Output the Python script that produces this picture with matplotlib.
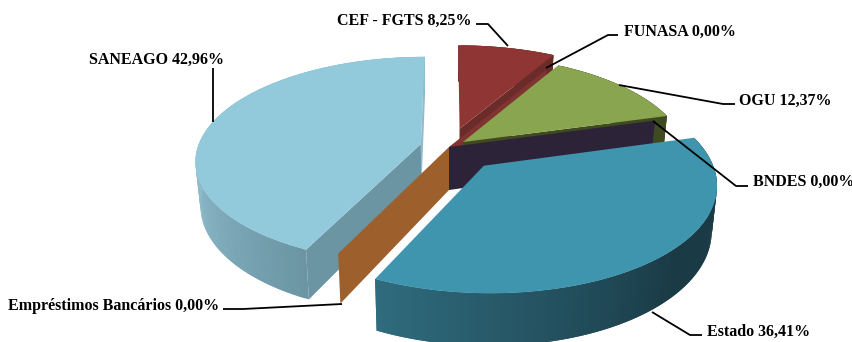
import numpy as np
import matplotlib
matplotlib.use('Agg')
import matplotlib.pyplot as plt
from matplotlib.colors import to_rgb

labels = ['CEF - FGTS', 'FUNASA', 'OGU', 'BNDES', 'Estado', 'Empréstimos Bancários', 'SANEAGO']
values = [8.25, 0.00, 12.37, 0.00, 36.41, 0.00, 42.96]
explode = [0.19, 0.0, 0.08, 0.0, 0.235, 0.0, 0.13]
top_colors = ['#8f3534', '#7f3432', '#8aa54f', '#2d2338', '#3f95ae', '#9d5f2b', '#92cadc']
side_colors = ['#6b2b28', '#7f3432', '#3f4a20', '#2d2338', '#1a3a46', '#9d5f2b', '#6b95a3']
rim_light = ['#6b2b28', '#7f3432', '#3f4a20', '#2d2338', '#2f6c7e', '#9d5f2b', '#8fbccd']

# pie centre, radii and perspective, all in pixels of the canvas
cx, cy = 449.0, 147.0
rx, ry = 223.0, 101.5
persp = 0.154
depth = 43.0
shrink = 0.02


def project(u, v, d=0.0):
    w = 1.0/(1.0 - persp*v)
    x = cx + rx*u*w*(1.0 - shrink*d)
    y = cy + (ry*v + depth*d)*w
    return x, y


def mix(a, b, t):
    a, b = np.array(to_rgb(a)), np.array(to_rgb(b))
    return tuple(a + (b - a)*t)


def draw_flat_wall(ax, ou, ov, ang, color):
    # radial wall of a slice, from its apex out to the rim
    x0, y0 = project(ou, ov)
    x1, y1 = project(ou + np.sin(ang), ov - np.cos(ang))
    x2, y2 = project(ou + np.sin(ang), ov - np.cos(ang), 1)
    x3, y3 = project(ou, ov, 1)
    ax.fill([x0, x1, x2, x3], [y0, y1, y2, y3], color=color, lw=0)


def draw_slice(ax, i, a0, a1):
    th = np.radians(np.linspace(a0, a1, max(int(a1 - a0), 1) + 1))
    mid = np.radians((a0 + a1)/2)
    ou, ov = explode[i]*np.sin(mid), -explode[i]*np.cos(mid)
    u, v = ou + np.sin(th), ov - np.cos(th)

    # curved outer wall, strips overlap the next one so no seams show
    if a1 > a0:
        xa, ya = project(u, v)
        xb, yb = project(u, v, 1)
        n = len(th) - 1
        for k in range(n):
            t = (k + 0.5)/n
            if labels[i] == 'Estado':
                c = mix(side_colors[i], rim_light[i], np.clip((t - 0.45)/0.55, 0, 1))
            else:
                c = mix(side_colors[i], rim_light[i], np.clip(t/0.35, 0, 1))
            e = min(k + 2, n)
            ax.fill(np.r_[xa[k:e+1], xb[k:e+1][::-1]], np.r_[ya[k:e+1], yb[k:e+1][::-1]],
                    color=c, lw=0)

    # SANEAGO shows both radial walls, the others only the far one
    if labels[i] == 'SANEAGO':
        draw_flat_wall(ax, ou, ov, np.radians(a1), rim_light[i])
        draw_flat_wall(ax, ou, ov, np.radians(a0), side_colors[i])
    elif a1 > a0 and labels[i] != 'Estado':
        draw_flat_wall(ax, ou, ov, np.radians(a1), side_colors[i])
    elif a1 == a0:
        draw_flat_wall(ax, ou, ov, np.radians(a0), top_colors[i])

    if a1 > a0:
        xt, yt = project(np.r_[ou, u], np.r_[ov, v])
        ax.fill(xt, yt, color=top_colors[i], lw=0)


fig = plt.figure(figsize=(8.53, 3.42), dpi=100)
ax = fig.add_axes([0, 0, 1, 1])
ax.set_xlim(0, 853)
ax.set_ylim(342, 0)
ax.axis('off')

edges = np.r_[0, np.cumsum(values)]*360.0/sum(values)
for i in [6, 0, 1, 2, 3, 5, 4]:
    draw_slice(ax, i, edges[i], edges[i+1])

# label anchors and leader lines
text_pos = [(337, 21), (624, 32), (739, 101), (753, 182), (707, 332), (8, 306), (89, 60)]
leaders = [
    [(476, 24), (488, 24), (508, 46)],
    [(618, 35), (608, 35), (546, 68)],
    [(735, 104), (723, 104), (619, 85)],
    [(748, 186), (736, 186), (653, 121)],
    [(702, 335), (690, 335), (652, 312)],
    [(223, 309), (243, 309), (342, 304)],
    [(213, 68), (213, 122)],
]

for i in range(len(labels)):
    txt = '%s %s%%' % (labels[i], ('%.2f' % values[i]).replace('.', ','))
    ax.text(text_pos[i][0], text_pos[i][1], txt, family='Liberation Serif', weight='bold',
            fontsize=11.5, color='black', ha='left', va='center')
    line = np.array(leaders[i])
    ax.plot(line[:,0], line[:,1], color='black', lw=1.3, solid_capstyle='butt')

fig.savefig('out.png', dpi=100)
